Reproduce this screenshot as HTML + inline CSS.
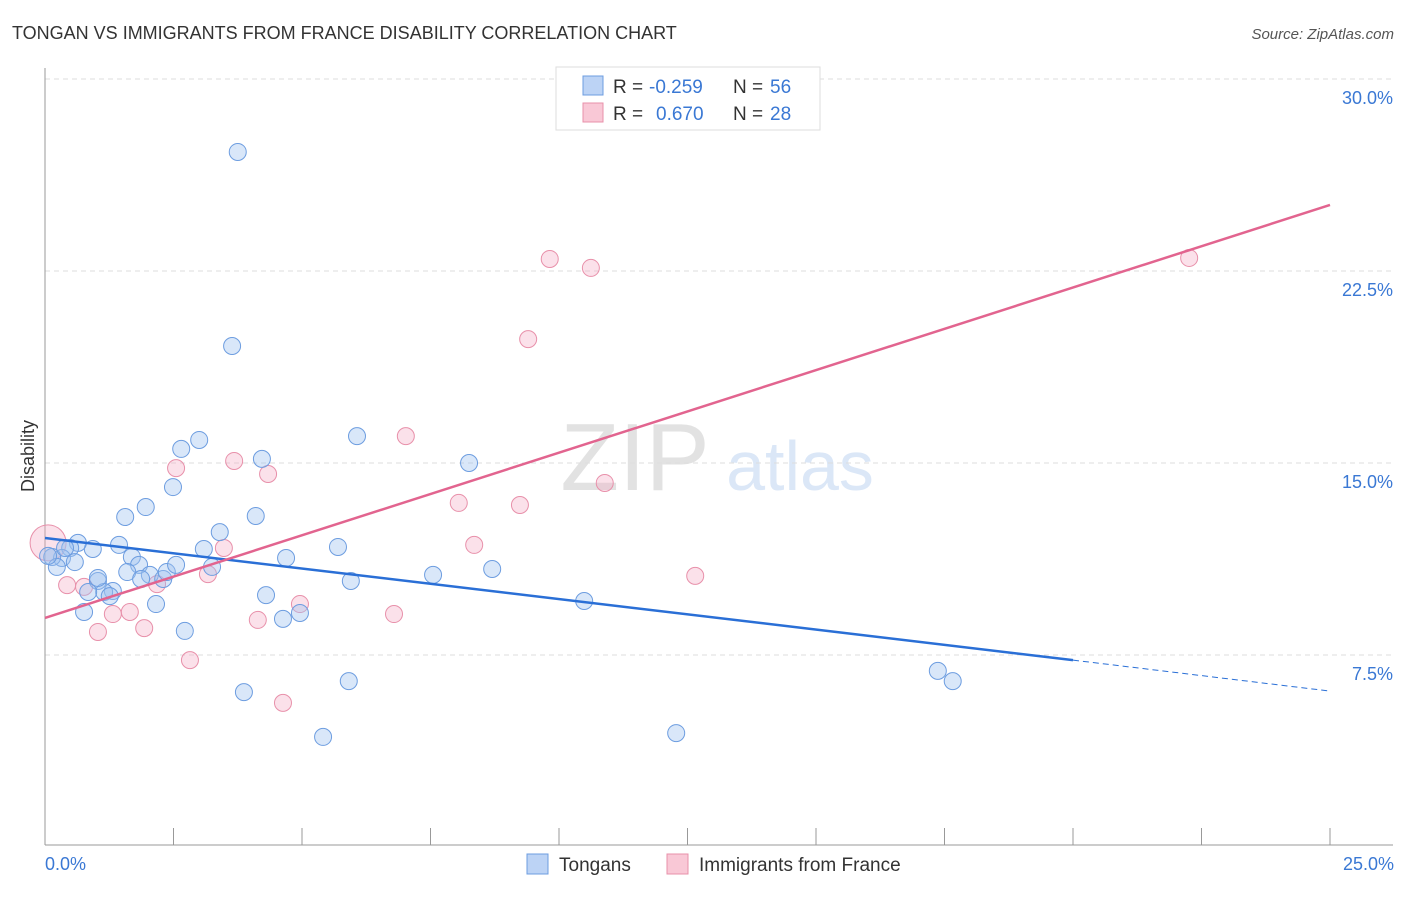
<!DOCTYPE html>
<html><head><meta charset="utf-8"><style>
body{margin:0;background:#fff;font-family:"Liberation Sans",sans-serif}
svg text{font-family:"Liberation Sans",sans-serif}
</style></head><body>
<svg id="c" width="1406" height="892">
<text x="12" y="39" font-size="18" fill="#333">TONGAN VS IMMIGRANTS FROM FRANCE DISABILITY CORRELATION CHART</text>
<text x="1394" y="39" font-size="15" fill="#555" font-style="italic" text-anchor="end">Source: ZipAtlas.com</text>
<text x="635" y="490" font-size="96" fill="#e2e2e2" font-family="Liberation Serif" text-anchor="middle">ZIP</text>
<text x="800" y="490" font-size="70" fill="#dbe7f7" text-anchor="middle">atlas</text>
<g id="grid"></g><g id="axes"></g><g id="pts"></g><g id="trend"></g>
<text transform="translate(34,456) rotate(-90)" font-size="18" fill="#333" text-anchor="middle">Disability</text>
<text x="45" y="870" font-size="18" fill="#3a78d4">0.0%</text>
<text x="1394" y="870" font-size="18" fill="#3a78d4" text-anchor="end">25.0%</text>
<g>
<rect x="556" y="67" width="264" height="63" fill="#fff" stroke="#ddd"/>
<rect x="583" y="76" width="20" height="19" fill="#bcd3f5" stroke="#6d9de0"/>
<rect x="583" y="103" width="20" height="19" fill="#f9c8d6" stroke="#e890aa"/>
<text x="613" y="93" font-size="19" fill="#333">R =</text>
<text x="649" y="93" font-size="19" fill="#3a78d4">-0.259</text>
<text x="733" y="93" font-size="19" fill="#333">N =</text>
<text x="770" y="93" font-size="19" fill="#3a78d4">56</text>
<text x="613" y="120" font-size="19" fill="#333">R =</text>
<text x="656" y="120" font-size="19" fill="#3a78d4">0.670</text>
<text x="733" y="120" font-size="19" fill="#333">N =</text>
<text x="770" y="120" font-size="19" fill="#3a78d4">28</text>
</g>
<g>
<rect x="527" y="854" width="21" height="20" fill="#bcd3f5" stroke="#6d9de0"/>
<text x="559" y="871" font-size="19" fill="#333">Tongans</text>
<rect x="667" y="854" width="21" height="20" fill="#f9c8d6" stroke="#e890aa"/>
<text x="699" y="871" font-size="19" fill="#333">Immigrants from France</text>
</g>
</svg>
<script>
const yTicks=[7.5,15,22.5,30];
const yTickLabels=["7.5%","15.0%","22.5%","30.0%"];
const tongX=[3.75,3.64,3.00,2.65,2.49,1.96,1.56,3.40,4.10,4.22,6.07,8.25,3.09,4.69,5.70,1.44,0.93,0.64,0.49,0.33,0.14,0.23,0.58,1.03,1.32,1.15,0.84,1.69,1.83,1.60,2.04,1.87,2.30,2.37,2.55,3.25,2.16,0.76,2.72,4.30,4.63,4.96,5.95,7.55,8.70,10.49,3.87,5.91,5.41,12.28,17.37,17.66,0.39,0.06,1.26,1.03];
const tongY=[27.15,19.57,15.90,15.55,14.06,13.28,12.89,12.30,12.93,15.16,16.05,15.00,11.64,11.29,11.72,11.80,11.64,11.88,11.68,11.29,11.33,10.94,11.13,10.39,10.00,9.96,9.96,11.33,11.02,10.74,10.63,10.47,10.47,10.74,11.02,10.94,9.49,9.18,8.44,9.84,8.91,9.14,10.39,10.63,10.86,9.61,6.05,6.48,4.30,4.45,6.88,6.48,11.68,11.37,9.80,10.51];
const frX=[9.82,10.62,22.26,9.40,7.02,2.55,3.68,4.34,10.89,8.05,9.24,8.35,3.48,3.17,12.65,0.06,0.43,0.76,2.18,1.32,1.65,1.03,1.93,4.14,4.96,6.79,2.82,4.63];
const frY=[22.97,22.62,23.01,19.84,16.05,14.80,15.08,14.57,14.22,13.44,13.36,11.80,11.68,10.66,10.59,11.88,10.23,10.16,10.27,9.10,9.18,8.40,8.55,8.87,9.49,9.10,7.30,5.63];
const blueTrend=[12.07,7.30,6.09]; // at x=0,20,25
const pinkTrend=[8.95,25.08]; // at x=0,25
const NS="http://www.w3.org/2000/svg";
const X=v=>45+v/25*1285, Y=v=>847-v/7.5*192;
function mk(t,a,p){const e=document.createElementNS(NS,t);for(const k in a)e.setAttribute(k,a[k]);document.getElementById(p).appendChild(e);return e;}
yTicks.forEach((t,i)=>{
 const l=mk('line',{x1:45,x2:1393,y1:Y(t),y2:Y(t),stroke:'#ddd','stroke-dasharray':'5,4'},'grid');
 
 
 const tx=mk('text',{x:1393,y:Y(t)+25,'font-size':18,fill:'#3a78d4','text-anchor':'end'},'grid');tx.textContent=yTickLabels[i];
 
 
});
mk('line',{x1:45,x2:45,y1:68,y2:845,stroke:'#999'},'axes');
mk('line',{x1:45,x2:1393,y1:845,y2:845,stroke:'#999'},'axes');
for(let i=1;i<=10;i++){const tk=mk('line',{x1:X(i*2.5),x2:X(i*2.5),y1:828,y2:845,stroke:'#999'},'axes');
 
 }
frX.forEach((x,i)=>{const c=mk('circle',{cx:X(x),cy:Y(frY[i]),r:i==15?18:8.5,fill:'rgba(244,170,195,0.35)',stroke:'#e890aa','stroke-width':1},'pts');
 
 });
tongX.forEach((x,i)=>{const c=mk('circle',{cx:X(x),cy:Y(tongY[i]),r:8.5,fill:'rgba(160,195,240,0.4)',stroke:'#6d9de0','stroke-width':1},'pts');
 
 });
const b1=mk('line',{x1:X(0),y1:Y(blueTrend[0]),x2:X(20),y2:Y(blueTrend[1]),stroke:'#2a6fd6','stroke-width':2.5},'trend');


const b2=mk('line',{x1:X(20),y1:Y(blueTrend[1]),x2:X(25),y2:Y(blueTrend[2]),stroke:'#2a6fd6','stroke-width':1,'stroke-dasharray':'6,4'},'trend');


const p1=mk('line',{x1:X(0),y1:Y(pinkTrend[0]),x2:X(25),y2:Y(pinkTrend[1]),stroke:'#e2648f','stroke-width':2.5},'trend');


</script>
</body></html>
